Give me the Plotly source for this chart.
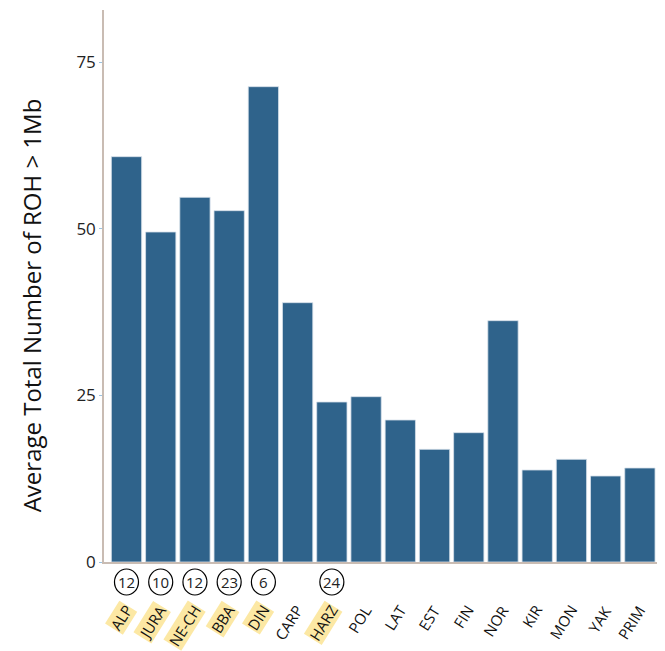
import plotly.graph_objects as go

# Populations, mean ROH counts (>1 Mb) and sample sizes for the highlighted groups
populations = ["ALP", "JURA", "NE-CH", "BBA", "DIN", "CARP", "HARZ", "POL",
               "LAT", "EST", "FIN", "NOR", "KIR", "MON", "YAK", "PRIM"]
avg_roh = [60.8, 49.5, 54.7, 52.7, 71.3, 38.9, 24.0, 24.8,
           21.3, 16.9, 19.4, 36.2, 13.8, 15.4, 12.9, 14.1]
sample_sizes = [12, 10, 12, 23, 6, None, 24, None,
                None, None, None, None, None, None, None, None]
highlighted = [True, True, True, True, True, False, True, False,
               False, False, False, False, False, False, False, False]
y_ticks = [0, 25, 50, 75]

BAR = "#2f638b"
AXIS = "#c9bcb3"
FONT = "Open Sans"

fig = go.Figure(go.Bar(
    x=populations, y=avg_roh,
    marker=dict(color=BAR, line=dict(color="#d6e0ea", width=0.8)),
    hoverinfo="x+y",
))

shapes = []
annotations = []
for pop, n, hl in zip(populations, sample_sizes, highlighted):
    if n is not None:
        # circled sample size just under the baseline
        shapes.append(dict(
            type="circle", xref="x", yref="paper",
            xsizemode="pixel", ysizemode="pixel",
            xanchor=pop, yanchor=0,
            x0=-12, x1=12, y0=-33, y1=-7,
            line=dict(color="black", width=1.2),
        ))
        annotations.append(dict(
            x=pop, y=0, xref="x", yref="y", yshift=-20,
            text=str(n), showarrow=False,
            xanchor="center", yanchor="middle",
            font=dict(family=FONT, size=15, color="#222"),
        ))
    annotations.append(dict(
        x=pop, y=0, xref="x", yref="y", xshift=11, yshift=-38,
        text=pop, showarrow=False, textangle=-58,
        xanchor="right", yanchor="top",
        bgcolor="#fce8a4" if hl else "rgba(0,0,0,0)",
        borderpad=0,
        font=dict(family=FONT, size=15, color="#111"),
    ))

annotations.append(dict(
    x=0, y=0.465, xref="paper", yref="paper", xshift=-73,
    xanchor="center", yanchor="middle",
    text="Average Total Number of ROH > 1Mb", showarrow=False, textangle=-90,
    font=dict(family=FONT, size=24, color="#111"),
))

fig.update_layout(
    width=665, height=651,
    margin=dict(l=104, r=8, t=10, b=89),
    paper_bgcolor="white", plot_bgcolor="white",
    bargap=0.115,
    showlegend=False,
    font=dict(family=FONT, color="#222"),
    xaxis=dict(
        type="category", showticklabels=False, ticks="",
        showline=True, linecolor=AXIS, linewidth=1.5,
        showgrid=False, zeroline=False,
    ),
    yaxis=dict(
        range=[0, 82.8], tickvals=y_ticks,
        ticks="outside", ticklen=3, tickcolor="#9cc3e0", tickwidth=1,
        tickfont=dict(family=FONT, size=17, color="#222"),
        showline=True, linecolor=AXIS, linewidth=1.5,
        showgrid=False, zeroline=False,
    ),
    shapes=shapes,
    annotations=annotations,
)

fig.write_html("out.html")
